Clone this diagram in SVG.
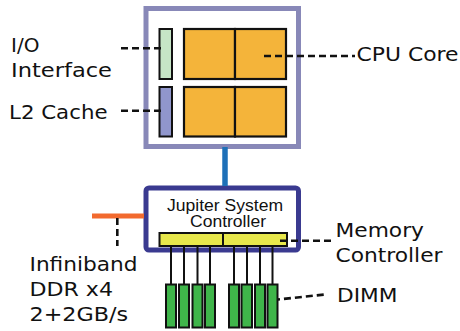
<svg xmlns="http://www.w3.org/2000/svg" width="460" height="331" viewBox="0 0 460 331">
<style>
.lbl{font-family:"DejaVu Sans","Verdana",sans-serif;font-size:20px;fill:#111}
.ctl{font-family:"Liberation Sans",Arial,sans-serif;font-size:16px;fill:#111}
.dash{stroke:#111;stroke-width:2.6;stroke-dasharray:7 4;fill:none}
.blk{stroke:#111;stroke-width:2}
.core{fill:#f4b43a;stroke:#111;stroke-width:2.2}
.dimm{fill:#3fb54a;stroke:#111;stroke-width:2}
.wire{stroke:#111;stroke-width:2}
</style>
<rect width="460" height="331" fill="#fff"/>
<g id="cpu">
<rect x="146" y="8.5" width="152.5" height="138" fill="#fff" stroke="#8888b8" stroke-width="5"/>
<rect x="159.5" y="29" width="12.5" height="50" fill="#c6e5c6" class="blk"/>
<rect x="159.5" y="87" width="12.5" height="49.5" fill="#9096cc" class="blk"/>
<rect x="184" y="29" width="51" height="50" class="core"/>
<rect x="235" y="29" width="51" height="50" class="core"/>
<rect x="184" y="87" width="51" height="49.5" class="core"/>
<rect x="235" y="87" width="51" height="49.5" class="core"/>
</g>
<g id="controller">
<rect x="146" y="188" width="152.5" height="62" rx="3" fill="#fff" stroke="#3a3a90" stroke-width="5"/>
<text class="ctl" x="225" y="211" text-anchor="middle" textLength="116" lengthAdjust="spacingAndGlyphs">Jupiter System</text>
<text class="ctl" x="228" y="226.5" text-anchor="middle" textLength="76" lengthAdjust="spacingAndGlyphs">Controller</text>
<rect x="159.5" y="233" width="63.5" height="13" fill="#e8e84c" class="blk"/>
<rect x="223" y="233" width="64" height="13" fill="#e8e84c" class="blk"/>
</g>
<g id="connectors">
<line x1="225" y1="147" x2="225" y2="186" stroke="#1e70b8" stroke-width="5.5"/>
<line x1="92" y1="216" x2="144" y2="216" stroke="#f26a2e" stroke-width="5"/>
<line class="wire" x1="171" y1="246" x2="171" y2="284"/>
<line class="wire" x1="184" y1="246" x2="184" y2="284"/>
<line class="wire" x1="197.5" y1="246" x2="197.5" y2="284"/>
<line class="wire" x1="210" y1="246" x2="210" y2="284"/>
<line class="wire" x1="234" y1="246" x2="234" y2="284"/>
<line class="wire" x1="247" y1="246" x2="247" y2="284"/>
<line class="wire" x1="260" y1="246" x2="260" y2="284"/>
<line class="wire" x1="272.5" y1="246" x2="272.5" y2="284"/>
<line class="dash" x1="121" y1="48.3" x2="164" y2="48.3"/>
<line class="dash" x1="121" y1="110.7" x2="164" y2="110.7"/>
<line class="dash" x1="264" y1="56" x2="355" y2="56"/>
<line class="dash" x1="117.3" y1="218" x2="117.3" y2="246"/>
<line class="dash" x1="280" y1="240.7" x2="331" y2="240.7"/>
<line class="dash" x1="273" y1="300" x2="327" y2="294.3"/>
</g>
<g id="dimms">
<rect class="dimm" x="166" y="284.5" width="10" height="43"/>
<rect class="dimm" x="179" y="284.5" width="10" height="43"/>
<rect class="dimm" x="192.5" y="284.5" width="10" height="43"/>
<rect class="dimm" x="205" y="284.5" width="10" height="43"/>
<rect class="dimm" x="229" y="284.5" width="10" height="43"/>
<rect class="dimm" x="241.5" y="284.5" width="10.5" height="43"/>
<rect class="dimm" x="255" y="284.5" width="10" height="43"/>
<rect class="dimm" x="267.5" y="284.5" width="10" height="43"/>
</g>
<g id="labels">
<text class="lbl" x="11" y="52.3">I/O</text>
<text class="lbl" x="11" y="76.7" textLength="101" lengthAdjust="spacingAndGlyphs">Interface</text>
<text class="lbl" x="9" y="119" textLength="98.5" lengthAdjust="spacingAndGlyphs">L2 Cache</text>
<text class="lbl" x="356.5" y="61" textLength="102" lengthAdjust="spacingAndGlyphs">CPU Core</text>
<text class="lbl" x="335.5" y="237.3" textLength="88.5" lengthAdjust="spacingAndGlyphs">Memory</text>
<text class="lbl" x="335.5" y="262.3" textLength="107" lengthAdjust="spacingAndGlyphs">Controller</text>
<text class="lbl" x="337" y="301.7" textLength="60.5" lengthAdjust="spacingAndGlyphs">DIMM</text>
<text class="lbl" x="29.5" y="270.7" textLength="108" lengthAdjust="spacingAndGlyphs">Infiniband</text>
<text class="lbl" x="29.5" y="295.7" textLength="83.5" lengthAdjust="spacingAndGlyphs">DDR x4</text>
<text class="lbl" x="29.5" y="320.7" textLength="98.5" lengthAdjust="spacingAndGlyphs">2+2GB/s</text>
</g>
</svg>
